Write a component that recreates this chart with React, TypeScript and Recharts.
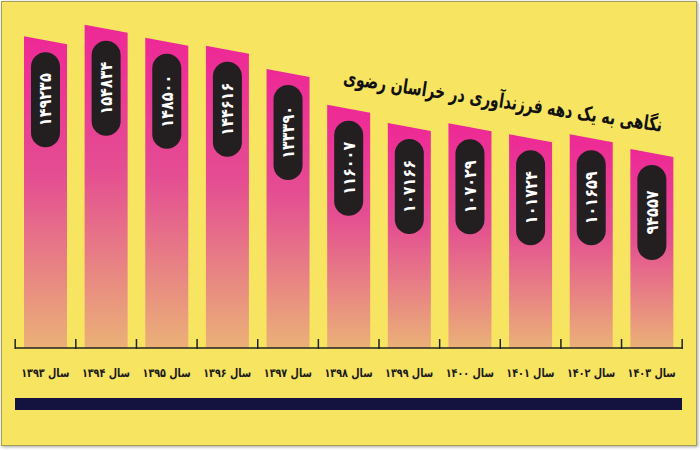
import React from 'react';
import { BarChart, Bar, XAxis, YAxis } from 'recharts';

const years = ['۱۳۹۳', '۱۳۹۴', '۱۳۹۵', '۱۳۹۶', '۱۳۹۷', '۱۳۹۸', '۱۳۹۹', '۱۴۰۰', '۱۴۰۱', '۱۴۰۲', '۱۴۰۳'];
const births = [149235, 154834, 148500, 144616, 133390, 116007, 107166, 107029, 101724, 101659, 94557];
const yearPrefix = 'سال';
const titleText = 'نگاهی به یک دهه فرزندآوری در خراسان رضوی';

const data = years.map((y, i) => ({ year: `${yearPrefix} ${y}`, births: births[i] }));

const W = 700;
const H = 450;
const M = { top: 18, right: 18, left: 15, bottom: 72 };
const PLOT_W = W - M.left - M.right;
const YELLOW = '#f7e461';
const FONT = '"DejaVu Sans", sans-serif';
const SLANT = 4;

const faDigits = '۰۱۲۳۴۵۶۷۸۹';
const toFa = (v: number) => String(v).replace(/\d/g, (d) => faDigits[Number(d)]);

function SlantBar(props: any) {
  const { x, y, width, height, index, payload } = props;
  const n = data.length;
  const band = PLOT_W / n;
  const half = (band - width) / 2;
  const cx = x + width / 2;
  const bottom = y + height;
  const path = `M${x},${y - SLANT} L${x + width},${y + SLANT} L${x + width},${bottom} L${x},${bottom} Z`;
  const pillW = 29;
  const pillH = 95;
  const pillTop = y + 12;
  const pillCy = pillTop + pillH / 2;
  return (
    <g>
      <path d={path} fill="url(#barGrad)" />
      <rect x={cx - pillW / 2} y={pillTop} width={pillW} height={pillH} rx={pillW / 2} ry={pillW / 2} fill="#231f20" />
      <text
        transform={`translate(${cx} ${pillCy}) rotate(-90) scale(0.85 1)`}
        x={0}
        y={0}
        textAnchor="middle"
        dominantBaseline="central"
        fill="#ffffff"
        fontWeight="bold"
        fontSize={17}
        fontFamily={FONT}
      >
        {toFa(payload.births)}
      </text>
      <line x1={x - half} x2={x - half} y1={bottom - 9} y2={bottom + 1} stroke="#222" strokeWidth={1.5} />
      {index === n - 1 && (
        <line x1={x + width + half} x2={x + width + half} y1={bottom - 9} y2={bottom + 1} stroke="#222" strokeWidth={1.5} />
      )}
    </g>
  );
}

function YearTick(props: any) {
  const { x, y, payload } = props;
  return (
    <text
      transform={`translate(${x} ${y + 29}) scale(0.8 1)`}
      x={0}
      y={0}
      textAnchor="middle"
      fill="#1a1a1a"
      fontWeight="bold"
      fontSize={12}
      fontFamily={FONT}
      direction="rtl"
    >
      {payload.value}
    </text>
  );
}

export default function App() {
  return (
    <div style={{ position: 'absolute', left: 0, top: 0, width: W, height: H, background: '#ffffff' }}>
      <div
        style={{
          position: 'absolute',
          left: 1,
          top: 1,
          width: 694,
          height: 443,
          background: YELLOW,
          border: '1px solid #a39d55',
          boxShadow: '1px 1px 3px rgba(0,0,0,0.35)',
        }}
      />
      <div style={{ position: 'absolute', left: 0, top: 0 }}>
        <BarChart width={W} height={H} data={data} margin={M}>
          <defs>
            <linearGradient id="barGrad" x1="0" y1="0" x2="0" y2="1">
              <stop offset="0%" stopColor="#ee2896" />
              <stop offset="45%" stopColor="#e44e92" />
              <stop offset="100%" stopColor="#ebb177" />
            </linearGradient>
          </defs>
          <XAxis
            dataKey="year"
            height={30}
            tickLine={false}
            tickSize={0}
            tickMargin={0}
            axisLine={{ stroke: '#222', strokeWidth: 1.5 }}
            tick={<YearTick />}
            interval={0}
          />
          <YAxis hide domain={[0, 160000]} />
          <Bar dataKey="births" barSize={43} shape={<SlantBar />} isAnimationActive={false} />
        </BarChart>
      </div>
      <div style={{ position: 'absolute', left: 15, top: 398, width: 667, height: 12, background: '#14123e' }} />
      <div
        style={{
          position: 'absolute',
          left: 503,
          top: 101,
          transform: 'translate(-50%, -50%) rotate(8.5deg) scaleX(0.7)',
          whiteSpace: 'nowrap',
          direction: 'rtl',
          fontFamily: FONT,
          fontWeight: 'bold',
          fontSize: 20,
          lineHeight: '24px',
          color: '#111',
        }}
      >
        {titleText}
      </div>
    </div>
  );
}
